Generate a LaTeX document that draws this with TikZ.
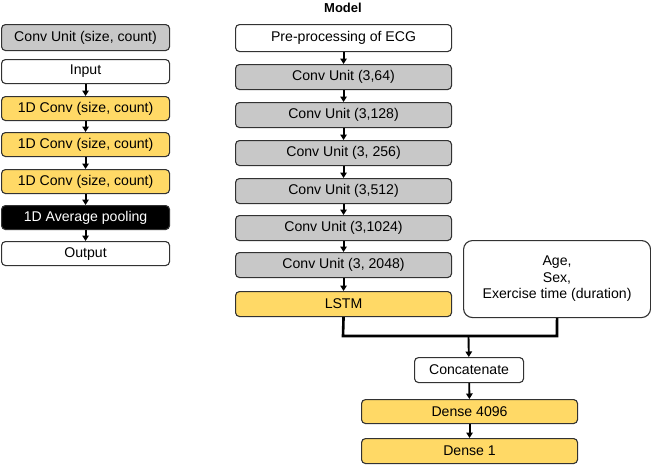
\documentclass[tikz,border=0pt]{standalone}
\usepackage{fontspec}
\setmainfont{Liberation Sans}
\usetikzlibrary{arrows.meta}
\definecolor{boxgray}{RGB}{200,200,200}
\definecolor{boxyellow}{RGB}{255,217,102}
\definecolor{edgegray}{RGB}{50,50,50}
\begin{document}
\begin{tikzpicture}[x=1pt,y=-1pt,
  box/.style={draw=edgegray,line width=1.1pt,rounded corners=4pt,inner sep=0pt,anchor=north west,font=\fontsize{14.1}{16.5}\selectfont},
  gbox/.style={box,fill=boxgray},
  ybox/.style={box,fill=boxyellow},
  wbox/.style={box,fill=white},
  kbox/.style={box,fill=black,text=white},
  arr/.style={line width=1.9pt,-{Triangle[length=5.5pt,width=6.5pt]}},
  joinline/.style={line width=2.6pt}
]
\useasboundingbox (0,0) rectangle (651,464);
% left legend column
\node[gbox,minimum width=168pt,minimum height=26pt] (lcu) at (1,24) {Conv Unit (size, count)};
\node[wbox,minimum width=168pt,minimum height=24pt] (lin) at (1,59) {Input};
\node[ybox,minimum width=168pt,minimum height=24pt] (lc1) at (1,96) {1D Conv (size, count)};
\node[ybox,minimum width=168pt,minimum height=24pt] (lc2) at (1,132) {1D Conv (size, count)};
\node[ybox,minimum width=168pt,minimum height=24pt] (lc3) at (1,169) {1D Conv (size, count)};
\node[kbox,minimum width=168pt,minimum height=24pt] (lap) at (1,205) {1D Average pooling};
\node[wbox,minimum width=168pt,minimum height=24pt] (lout) at (1,241) {Output};
\draw[arr] (lin) -- (lc1);
\draw[arr] (lc1) -- (lc2);
\draw[arr] (lc2) -- (lc3);
\draw[arr] (lc3) -- (lap);
\draw[arr] (lap) -- (lout);
% model column
\node[font=\fontsize{13}{15}\selectfont\bfseries] (title) at (343,8) {Model};
\node[wbox,minimum width=216pt,minimum height=27pt] (pre) at (235,24) {Pre-processing of ECG};
\node[gbox,minimum width=216pt,minimum height=25pt] (c1) at (235,64) {Conv Unit (3,64)};
\node[gbox,minimum width=216pt,minimum height=25pt] (c2) at (235,102) {Conv Unit (3,128)};
\node[gbox,minimum width=216pt,minimum height=25pt] (c3) at (235,140) {Conv Unit (3, 256)};
\node[gbox,minimum width=216pt,minimum height=25pt] (c4) at (235,178) {Conv Unit (3,512)};
\node[gbox,minimum width=216pt,minimum height=25pt] (c5) at (235,215) {Conv Unit (3,1024)};
\node[gbox,minimum width=216pt,minimum height=25pt] (c6) at (235,252) {Conv Unit (3, 2048)};
\node[ybox,minimum width=216pt,minimum height=25pt] (lstm) at (235,291) {LSTM};
\node[wbox,minimum width=187pt,minimum height=77pt,align=center,rounded corners=9pt] (meta) at (463,240) {Age,\\Sex,\\Exercise time (duration)};
\node[wbox,minimum width=109pt,minimum height=25pt] (cat) at (414,357) {Concatenate};
\node[ybox,minimum width=216pt,minimum height=24pt] (d1) at (361,399) {Dense 4096};
\node[ybox,minimum width=216pt,minimum height=25pt] (d2) at (361,438) {Dense 1};
\draw[arr] (pre) -- (c1);
\draw[arr] (c1) -- (c2);
\draw[arr] (c2) -- (c3);
\draw[arr] (c3) -- (c4);
\draw[arr] (c4) -- (c5);
\draw[arr] (c5) -- (c6);
\draw[arr] (c6) -- (lstm);
\coordinate (jl) at (343,336);
\coordinate (jr) at (557,336);
\coordinate (jm) at (468.5,336);
\draw[joinline] (lstm.south) -- (jl) -- (jr) -- (meta.south);
\draw[arr] (jm) -- (cat);
\draw[arr] (cat) -- (d1);
\draw[arr] (d1) -- (d2);
\end{tikzpicture}
\end{document}
